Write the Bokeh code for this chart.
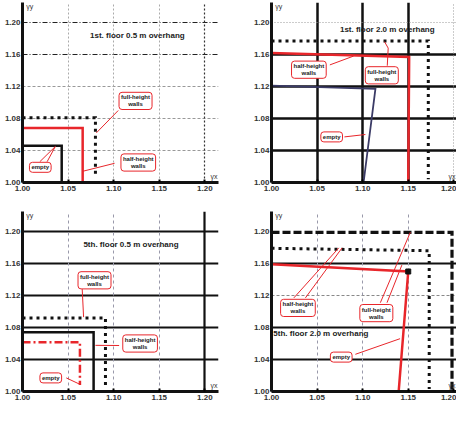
from bokeh.plotting import figure
from bokeh.models import Label, Grid, FixedTicker, Range1d, PrintfTickFormatter
from bokeh.layouts import column, row
from bokeh.embed import file_html
from bokeh.resources import INLINE

# ---------------- data ----------------
X_TICKS = [1.00, 1.05, 1.10, 1.15, 1.20]
Y_TICKS = [1.00, 1.04, 1.08, 1.12, 1.16, 1.20]

TITLES = ["1st. floor 0.5 m overhang", "1st. floor 2.0 m overhang",
          "5th. floor 0.5 m overhang", "5th. floor 2.0 m overhang"]

# panel 1 : 1st floor, 0.5 m overhang
P1_EMPTY_X = [1.000, 1.043, 1.043]
P1_EMPTY_Y = [1.046, 1.046, 1.000]
P1_HALF_X = [1.000, 1.066, 1.066]
P1_HALF_Y = [1.068, 1.068, 1.000]
P1_FULL_X = [1.000, 1.080, 1.080]
P1_FULL_Y = [1.081, 1.081, 1.008]

# panel 2 : 1st floor, 2.0 m overhang
P2_EMPTY_X = [1.000, 1.114, 1.101]
P2_EMPTY_Y = [1.121, 1.117, 1.000]
P2_HALF_X = [1.000, 1.151, 1.150]
P2_HALF_Y = [1.162, 1.157, 1.000]
P2_FULL_X = [1.000, 1.172, 1.172]
P2_FULL_Y = [1.177, 1.177, 1.004]

# panel 3 : 5th floor, 0.5 m overhang
P3_EMPTY_X = [1.000, 1.063, 1.063]
P3_EMPTY_Y = [1.0615, 1.0615, 1.008]
P3_HALF_X = [1.000, 1.078, 1.078]
P3_HALF_Y = [1.074, 1.074, 1.000]
P3_FULL_X = [1.000, 1.091, 1.091]
P3_FULL_Y = [1.092, 1.092, 1.006]

# panel 4 : 5th floor, 2.0 m overhang
P4_EMPTY_X = [1.000, 1.150, 1.1395]
P4_EMPTY_Y = [1.159, 1.150, 1.000]
P4_HALF_X = [1.000, 1.173, 1.173]
P4_HALF_Y = [1.179, 1.176, 1.003]
P4_FULL_X = [1.000, 1.198, 1.198]
P4_FULL_Y = [1.199, 1.199, 1.000]
P4_MARK_X = [1.150]
P4_MARK_Y = [1.150]

RED = "#e8262b"
INK = "#111111"
FONT = "Liberation Sans"


def make_panel(width, height, left, right, top, bottom, x_end,
               curves, grids, boxes, callouts, title_xy, title_align):
    p = figure(width=width, height=height,
               x_range=Range1d(1.0, x_end), y_range=Range1d(1.0, 1.225),
               output_backend="svg", toolbar_location=None,
               min_border_left=left, min_border_right=right,
               min_border_top=top, min_border_bottom=bottom)
    p.background_fill_color = "white"
    p.border_fill_color = "white"
    p.outline_line_color = None
    p.grid.visible = False

    for ax, ticks in ((p.xaxis, X_TICKS), (p.yaxis, Y_TICKS)):
        ax.ticker = FixedTicker(ticks=ticks)
        ax.formatter = PrintfTickFormatter(format="%.2f")
        ax.axis_line_width = 3
        ax.axis_line_color = INK
        ax.major_tick_out = 0
        ax.minor_tick_line_color = None
        ax.major_label_text_font = FONT
        ax.major_label_text_font_size = "8px"
        ax.major_label_text_font_style = "bold"
        ax.major_label_text_color = "#333333"
        ax.major_label_standoff = 3
    p.xaxis.major_tick_in = 3
    p.xaxis.major_tick_line_width = 2
    p.yaxis.major_tick_in = 0
    p.yaxis.major_label_standoff = 2

    for dim, ticks, color, lw, dash in grids:
        g = Grid(dimension=dim, ticker=FixedTicker(ticks=ticks),
                 grid_line_color=color, grid_line_width=lw,
                 grid_line_dash=dash)
        p.add_layout(g)

    for xs, ys, color, lw, dash in curves:
        p.line(xs, ys, line_color=color, line_width=lw, line_dash=dash,
               line_join="miter")

    for pts in callouts:
        xs = [a for a, b in pts]
        ys = [b for a, b in pts]
        p.line(xs, ys, line_color=RED, line_width=1)

    for x, y, txt in boxes:
        p.add_layout(Label(x=x, y=y, text=txt, text_font=FONT,
                           text_font_size="6px", text_font_style="bold",
                           text_align="center", text_baseline="middle",
                           text_color="#222222",
                           border_line_color=RED, border_line_width=1,
                           background_fill_color="white",
                           border_radius=3, padding=2))

    p.add_layout(Label(x=title_xy[0], y=title_xy[1], text=title_xy[2],
                       text_font=FONT, text_font_size="8px",
                       text_font_style="bold", text_align=title_align,
                       text_baseline="middle", text_color="#222222"))
    p.add_layout(Label(x=1.004, y=1.2245, text="γy", text_font=FONT,
                       text_font_size="7px", text_baseline="top",
                       text_color="#333333"))
    p.add_layout(Label(x=x_end - 0.001, y=1.003, text="γx", text_font=FONT,
                       text_font_size="7px", text_align="right",
                       text_baseline="bottom", text_color="#333333"))
    return p


dotted = "3 4"
W1, W2 = 249, 207
H1, H2 = 209, 196
X_END1 = 1.215
X_END2 = 1.0 + 185 / 196 * 0.215

p1 = make_panel(
    W1, H1, 22, 31, 2, 27, X_END1,
    curves=[(P1_FULL_X, P1_FULL_Y, INK, 3, dotted),
            (P1_HALF_X, P1_HALF_Y, RED, 2.5, "solid"),
            (P1_EMPTY_X, P1_EMPTY_Y, INK, 2.5, "solid")],
    grids=[(1, [1.04, 1.08, 1.12], "#999999", 1, "3 2"),
           (1, [1.16, 1.20], "#222222", 1.2, "5 2 1 2"),
           (0, [1.05, 1.10, 1.15], "#aaaaaa", 1, "2 2"),
           (0, [1.20], "#333333", 1.2, "2 2")],
    boxes=[(1.124, 1.102, "full-height\nwalls"),
           (1.127, 1.025, "half-height\nwalls"),
           (1.0195, 1.019, "empty")],
    callouts=[[(1.105, 1.090), (1.081, 1.062)],
              [(1.101, 1.024), (1.066, 1.014)],
              [(1.027, 1.026), (1.036, 1.045)],
              [(1.019, 1.026), (1.036, 1.045)]],
    title_xy=(1.126, 1.184, TITLES[0]), title_align="center")

p2 = make_panel(
    W2, H1, 22, 0, 2, 27, X_END2,
    curves=[(P2_FULL_X, P2_FULL_Y, INK, 3, dotted),
            (P2_HALF_X, P2_HALF_Y, RED, 2.5, "solid"),
            (P2_EMPTY_X, P2_EMPTY_Y, "#3b3b66", 1.8, "solid")],
    grids=[(1, [1.04, 1.08, 1.12, 1.16], INK, 2.5, "solid"),
           (0, [1.05, 1.10, 1.15], INK, 2.5, "solid"),
           (1, [1.20], "#999999", 1, "1 2"),
           (0, [1.20], "#999999", 1, "1 2")],
    boxes=[(1.041, 1.141, "half-height\nwalls"),
           (1.121, 1.134, "full-height\nwalls"),
           (1.066, 1.057, "empty")],
    callouts=[[(1.064, 1.147), (1.090, 1.158)],
              [(1.127, 1.146), (1.128, 1.168), (1.124, 1.176)],
              [(1.080, 1.057), (1.103, 1.060)]],
    title_xy=(1.127, 1.191, TITLES[1]), title_align="center")

p3 = make_panel(
    W1, H2, 22, 31, 2, 14, X_END1,
    curves=[(P3_FULL_X, P3_FULL_Y, INK, 3, dotted),
            (P3_HALF_X, P3_HALF_Y, INK, 2.5, "solid"),
            (P3_EMPTY_X, P3_EMPTY_Y, RED, 2.5, "8 3 2 3")],
    grids=[(1, [1.04, 1.08, 1.12, 1.16, 1.20], INK, 2.2, "solid"),
           (0, [1.05, 1.10, 1.15], "#9999aa", 1, "3 3"),
           (0, [1.20], INK, 2.2, "solid")],
    boxes=[(1.079, 1.139, "full-height\nwalls"),
           (1.129, 1.060, "half-height\nwalls"),
           (1.031, 1.017, "empty")],
    callouts=[[(1.0655, 1.128), (1.067, 1.093)],
              [(1.106, 1.0575), (1.080, 1.0577)],
              [(1.048, 1.017), (1.062, 1.0095)]],
    title_xy=(1.119, 1.184, TITLES[2]), title_align="center")

p4 = make_panel(
    W2, H2, 22, 0, 2, 14, X_END2,
    curves=[(P4_FULL_X, P4_FULL_Y, INK, 3.2, "8 3"),
            (P4_HALF_X, P4_HALF_Y, INK, 3, dotted),
            (P4_EMPTY_X, P4_EMPTY_Y, RED, 2.5, "solid")],
    grids=[(1, [1.04, 1.08, 1.16], INK, 2, "solid"),
           (1, [1.12], "#888888", 1, "3 2"),
           (0, [1.05, 1.10, 1.15], "#9999aa", 1, "3 3")],
    boxes=[(1.029, 1.1045, "half-height\nwalls"),
           (1.115, 1.098, "full-height\nwalls"),
           (1.0765, 1.043, "empty")],
    callouts=[[(1.0245, 1.117), (1.0738, 1.1795)],
              [(1.0372, 1.117), (1.0774, 1.1795)],
              [(1.1194, 1.111), (1.1523, 1.199)],
              [(1.1267, 1.111), (1.143, 1.158)],
              [(1.092, 1.0465), (1.141, 1.066)]],
    title_xy=(1.002, 1.072, TITLES[3]), title_align="left")
p4.scatter(P4_MARK_X, P4_MARK_Y, marker="square", size=5, color=INK)

layout = column(row(p1, p2), row(p3, p4))
open("out.html", "w").write(file_html(layout, INLINE))
